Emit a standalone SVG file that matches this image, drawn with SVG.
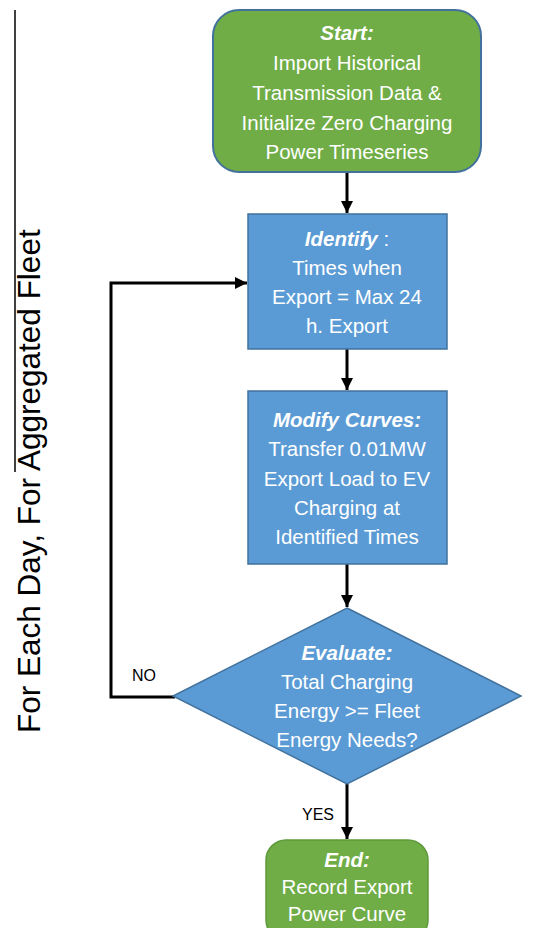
<svg xmlns="http://www.w3.org/2000/svg" width="542" height="928" viewBox="0 0 542 928">
<style>
  .t { font-family: "Liberation Sans", Arial, sans-serif; font-size: 20.5px; fill: #ffffff; text-anchor: middle; }
  .b { font-weight: bold; font-style: italic; }
  .lbl { font-family: "Liberation Sans", Arial, sans-serif; font-size: 16px; fill: #000000; }
  .blue { fill: #5B9BD5; stroke: #41719C; stroke-width: 1.5; }
  .conn { fill: none; stroke: #000000; stroke-width: 3; }
</style>
<defs>
  <marker id="ah" viewBox="0 0 10 10" refX="10" refY="5" markerWidth="4" markerHeight="4" markerUnits="strokeWidth" orient="auto">
    <path d="M0,0 L10,5 L0,10 z" fill="#000000"/>
  </marker>
</defs>
<rect width="542" height="928" fill="#ffffff"/>

<g id="frame">
  <line x1="15" y1="10" x2="15" y2="472" stroke="#000000" stroke-width="1.5"/>
  <text class="lbl" transform="translate(40,733) rotate(-90)" style="font-size:31.5px">For Each Day, For Aggregated Fleet</text>
</g>

<g id="connectors">
  <line class="conn" x1="347" y1="172" x2="347" y2="213" marker-end="url(#ah)"/>
  <line class="conn" x1="347" y1="349" x2="347" y2="390" marker-end="url(#ah)"/>
  <line class="conn" x1="347" y1="564" x2="347" y2="607" marker-end="url(#ah)"/>
  <line class="conn" x1="347" y1="784" x2="347" y2="839" marker-end="url(#ah)"/>
  <polyline class="conn" points="175,697 111,697 111,283 247,283" marker-end="url(#ah)"/>
  <text class="lbl" x="132" y="681">NO</text>
  <text class="lbl" x="302" y="820">YES</text>
</g>

<g id="start">
  <rect x="213" y="10" width="268" height="162" rx="26" ry="26" fill="#70AD47" stroke="#41719C" stroke-width="2"/>
  <text class="t b" x="347" y="40">Start:</text>
  <text class="t" x="347" y="70">Import Historical</text>
  <text class="t" x="347" y="100">Transmission Data &amp;</text>
  <text class="t" x="347" y="130">Initialize Zero Charging</text>
  <text class="t" x="347" y="159">Power Timeseries</text>
</g>

<g id="identify">
  <rect class="blue" x="248" y="214" width="199" height="135"/>
  <text class="t" x="347" y="246"><tspan class="b">Identify</tspan> :</text>
  <text class="t" x="347" y="275">Times when</text>
  <text class="t" x="347" y="304">Export = Max 24</text>
  <text class="t" x="347" y="333">h. Export</text>
</g>

<g id="modify">
  <rect class="blue" x="248" y="391" width="199" height="173"/>
  <text class="t b" x="347" y="427">Modify Curves:</text>
  <text class="t" x="347" y="456">Transfer 0.01MW</text>
  <text class="t" x="347" y="486">Export Load to EV</text>
  <text class="t" x="347" y="515">Charging at</text>
  <text class="t" x="347" y="544">Identified Times</text>
</g>

<g id="evaluate">
  <polygon class="blue" points="347,608 521,696 347,784 173,696"/>
  <text class="t b" x="347" y="660">Evaluate:</text>
  <text class="t" x="347" y="689">Total Charging</text>
  <text class="t" x="347" y="718">Energy &gt;= Fleet</text>
  <text class="t" x="347" y="747">Energy Needs?</text>
</g>

<g id="end">
  <rect x="266" y="840" width="162" height="100" rx="20" ry="20" fill="#70AD47" stroke="#5E9A3A" stroke-width="1.5"/>
  <text class="t b" x="347" y="867">End:</text>
  <text class="t" x="347" y="894">Record Export</text>
  <text class="t" x="347" y="921">Power Curve</text>
</g>
</svg>
